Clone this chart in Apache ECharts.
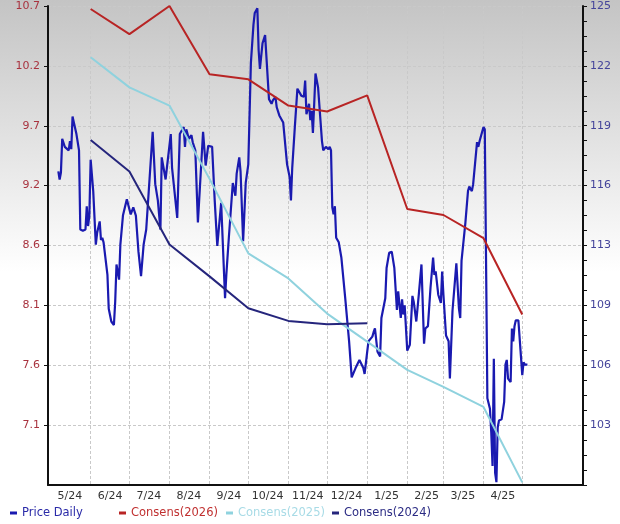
<!DOCTYPE html>
<html><head><meta charset="utf-8">
<script src="https://cdn.jsdelivr.net/npm/echarts@6/dist/echarts.min.js"></script>
<style>html,body{margin:0;padding:0;background:#fff}#c{width:620px;height:524px}</style>
</head><body><div id="c"></div>
<script>
// Price Daily: days counted from 2024-05-01, and closing prices (left axis)
const priceDay = [6,7,8,9,11,14,15,16,17,18,20,22,23,25,27,28,29,30,31,33,34,35,36,38,39,40,41,44,45,47,49,50,51,53,54,56,59,60,62,64,66,68,70,72,74,79,81,83,85,86,89,90,93,94,98,100,103,104,105,107,109,110,112,114,118,120,122,125,127,129,132,135,136,138,141,143,144,146,147,149,151,153,155,157,158,160,161,162,164,166,167,169,171,172,174,175,177,180,183,185,186,187,189,191,192,194,196,197,198,200,201,202,203,204,205,207,210,211,213,215,216,217,218,219,220,221,223,225,228,231,233,236,239,242,243,245,246,247,249,250,251,253,255,256,259,260,262,264,266,268,269,271,272,273,274,276,278,280,281,283,285,287,289,290,292,294,296,297,298,300,302,303,304,306,308,309,311,314,316,317,318,321,323,324,326,327,330,331,332,335,336,338,340,341,342,343,344,345,346,347,349,351,352,353,354,356,357,358,359,360,362,363,365,366,367,369];
const priceValue = [9.28,9.21,9.27,9.56,9.49,9.46,9.54,9.47,9.75,9.70,9.60,9.46,8.78,8.77,8.78,8.98,8.81,8.90,9.38,9.11,8.88,8.65,8.75,8.85,8.69,8.71,8.67,8.39,8.10,7.99,7.96,8.16,8.48,8.35,8.65,8.90,9.04,9.03,8.91,8.97,8.90,8.59,8.38,8.65,8.78,9.62,9.17,9.03,8.78,9.40,9.21,9.31,9.60,9.31,8.88,9.60,9.66,9.49,9.64,9.56,9.59,9.53,9.46,8.84,9.62,9.33,9.50,9.49,9.03,8.64,9.01,8.19,8.39,8.72,9.18,9.07,9.26,9.40,9.28,8.68,9.18,9.34,10.21,10.54,10.64,10.68,10.32,10.16,10.38,10.45,10.46,9.90,9.86,9.89,9.92,9.83,9.76,9.70,9.34,9.23,9.03,9.31,9.66,9.99,10.00,9.93,9.92,10.06,9.77,9.86,9.72,9.80,9.61,9.86,10.12,10.00,9.54,9.46,9.49,9.47,9.49,9.46,8.97,8.91,8.98,8.71,8.67,8.54,8.19,7.82,7.51,7.59,7.66,7.59,7.54,7.73,7.82,7.82,7.86,7.90,7.93,7.73,7.69,8.02,8.19,8.45,8.58,8.59,8.45,8.09,8.25,8.02,8.18,8.05,8.13,7.74,7.79,8.21,8.16,7.99,8.23,8.48,7.80,7.93,7.95,8.28,8.54,8.39,8.42,8.22,8.15,8.42,8.22,7.87,7.82,7.50,8.08,8.49,8.10,8.02,8.51,8.84,9.11,9.15,9.11,9.17,9.53,9.49,9.54,9.66,9.64,7.33,7.24,7.04,6.75,7.67,6.69,6.61,7.08,7.14,7.15,7.30,7.62,7.66,7.50,7.47,7.93,7.82,7.95,8.00,8.00,7.99,7.53,7.64,7.62,7.62];

// Monthly consensus estimates (right axis)
const consMonths = ['2024-06-01','2024-07-01','2024-08-01','2024-09-01','2024-10-01','2024-11-01','2024-12-01','2025-01-01','2025-02-01','2025-03-01','2025-04-01','2025-05-01'];
const cons2026 = [125.14,123.80,125.30,121.65,121.38,119.98,119.66,120.52,114.45,114.13,112.89,108.81];
const cons2025 = [122.56,120.95,119.98,116.06,112.08,110.74,108.86,107.36,105.85,104.94,103.87,99.84];
const cons2024 = [118.14,116.45,112.55,110.85,109.15,108.47,108.29,108.34];

// Axis ticks
const leftTicks = [7.1,7.6143,8.1286,8.6429,9.1571,9.6714,10.1857,10.7];
const rightTicks = [102.9,106.1,109.3,112.5,115.7,118.9,122.1,125.3];
const xLabelDates = ['2024-05-16','2024-06-16','2024-07-16','2024-08-16','2024-09-16','2024-10-16','2024-11-16','2024-12-16','2025-01-16','2025-02-16','2025-03-16','2025-04-16'];
const xGridDates = ['2024-06-01','2024-07-01','2024-08-01','2024-09-01','2024-10-01','2024-11-01','2024-12-01','2025-01-01','2025-02-01','2025-03-01','2025-04-01','2025-05-01'];

// Legend entries
const seriesNames = ['Price Daily','Consens(2026)','Consens(2025)','Consens(2024)'];
const seriesColors = ['#1a1ab0','#b82424','#8fd2de','#25257c'];
const legendTextColors = ['#2a2aa8','#c03030','#a8dbe6','#2c2c84'];
const legendLeft = [5,114,221,327];

function ts(s){const p=s.split('-').map(Number);return new Date(p[0],p[1]-1,p[2]).getTime();}
const leftMin = 6.5857, leftMax = 10.7;
const rightMin = 99.7, rightMax = 125.3;
const rightMinor = [];
for (let i = 0; i <= 32; i++) rightMinor.push(+(rightMin + i*0.8).toFixed(2));

const priceData = priceDay.map((d,i)=>[new Date(2024,4,1+d).getTime(), priceValue[i]]);
const c26 = consMonths.map((m,i)=>[ts(m), cons2026[i]]);
const c25 = consMonths.map((m,i)=>[ts(m), cons2025[i]]);
const c24 = cons2024.map((v,i)=>[ts(consMonths[i]), v]);

const FONT = 'DejaVu Sans';
const GRID = {color:'#c9c9c9',type:[3,2],width:1};
const chart = echarts.init(document.getElementById('c'), null, {renderer:'canvas'});
chart.setOption({
  animation:false,
  backgroundColor:{type:'linear',x:0,y:0,x2:0,y2:1,colorStops:[{offset:0,color:'#c4c4c4'},{offset:0.52,color:'#ffffff'},{offset:1,color:'#ffffff'}]},
  textStyle:{fontFamily:FONT},
  grid:{left:48,right:37,top:6,bottom:39,containLabel:false},
  legend: seriesNames.map((n,i)=>({
    left:legendLeft[i], bottom:0, itemWidth:7, itemHeight:3, icon:'rect',
    textStyle:{fontFamily:FONT,fontSize:11.5,color:legendTextColors[i]},
    data:[n]
  })),
  xAxis:{
    type:'value', min:ts('2024-04-29'), max:ts('2025-06-17'), scale:true,
    axisLine:{show:true,onZero:false,lineStyle:{color:'#111',width:2}},
    axisTick:{show:false,customValues:xGridDates.map(ts)},
    splitLine:{show:true,lineStyle:GRID},
    axisLabel:{customValues:xLabelDates.map(ts),color:'#333',fontSize:11,margin:6,fontFamily:FONT,
      formatter:v=>{const d=new Date(v);return (d.getMonth()+1)+'/'+String(d.getFullYear()).slice(2);}}
  },
  yAxis:[
    {type:'value',position:'left',min:leftMin,max:leftMax,
     axisLine:{show:true,lineStyle:{color:'#111',width:2}},
     axisTick:{show:true,length:4,customValues:leftTicks,lineStyle:{color:'#111'}},
     splitLine:{show:true,lineStyle:GRID},
     axisLabel:{customValues:leftTicks,color:'#a8323e',fontSize:11,margin:8,fontFamily:FONT,formatter:v=>v.toFixed(1)}},
    {type:'value',position:'right',min:rightMin,max:rightMax,
     axisLine:{show:true,lineStyle:{color:'#111',width:2}},
     axisTick:{show:true,length:4,customValues:rightMinor,lineStyle:{color:'#111'}},
     splitLine:{show:false},
     axisLabel:{customValues:rightTicks,color:'#44449a',fontSize:11,margin:7,fontFamily:FONT,formatter:v=>String(Math.round(v))}}
  ],
  series:[
    {name:seriesNames[0],type:'line',yAxisIndex:0,data:priceData,showSymbol:false,color:seriesColors[0],lineStyle:{width:2.2,color:seriesColors[0]}},
    {name:seriesNames[1],type:'line',yAxisIndex:1,data:c26,showSymbol:false,color:seriesColors[1],lineStyle:{width:2,color:seriesColors[1]}},
    {name:seriesNames[2],type:'line',yAxisIndex:1,data:c25,showSymbol:false,color:seriesColors[2],lineStyle:{width:2,color:seriesColors[2]}},
    {name:seriesNames[3],type:'line',yAxisIndex:1,data:c24,showSymbol:false,color:seriesColors[3],lineStyle:{width:2,color:seriesColors[3]}}
  ]
});
</script></body></html>
